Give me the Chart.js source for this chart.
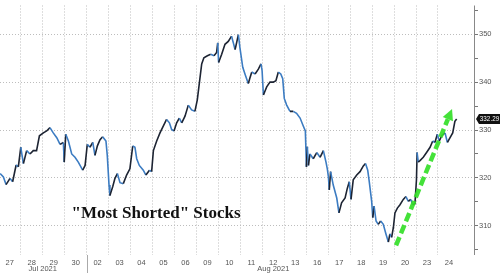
<!DOCTYPE html>
<html>
<head>
<meta charset="utf-8">
<script src="https://cdn.jsdelivr.net/npm/chart.js@4.4.0/dist/chart.umd.min.js"></script>
<style>
  html, body { margin: 0; padding: 0; background: #fff; }
  canvas { display: block; }
</style>
</head>
<body>
<canvas id="chart" width="500" height="273"></canvas>
<script>
// trading days shown on the x axis (each day = 1 unit)
const dayLabels = ['27','28','29','30','02','03','04','05','06','09','10','11','12','13','16','17','18','19','20','23','24'];
const monthLabels = ['Jul 2021', 'Aug 2021'];
const monthStarts = [0, 4];
const yTicks = [305, 310, 315, 320, 325, 330, 335, 340, 345, 350, 355];

// position in trading days (0 = start of Jul 27) and index level
const times = [
  0.06, 0.21, 0.33, 0.51, 0.63, 0.79, 0.89, 1.00, 1.12, 1.27, 1.42, 1.57, 1.72, 1.85,
  2.03, 2.18, 2.33, 2.48, 2.64, 2.79, 2.94, 2.98, 3.05, 3.17, 3.32, 3.47, 3.62, 3.82, 3.93,
  4.03, 4.15, 4.28, 4.38, 4.49, 4.61, 4.73, 4.88, 4.94, 5.02, 5.06, 5.19, 5.29, 5.40, 5.52,
  5.67, 5.82, 5.97, 6.10, 6.20, 6.28, 6.40, 6.58, 6.70, 6.86, 6.96, 7.04, 7.19, 7.34, 7.49,
  7.64, 7.77, 7.87, 7.98, 8.10, 8.22, 8.33, 8.48, 8.63, 8.78, 8.93, 9.04, 9.13, 9.24, 9.34,
  9.50, 9.65, 9.80, 9.92, 9.97, 10.01, 10.15, 10.30, 10.45, 10.60, 10.76, 10.91, 10.98, 11.11,
  11.21, 11.36, 11.52, 11.67, 11.82, 11.94, 11.99, 12.05, 12.20, 12.35, 12.50, 12.62, 12.73,
  12.84, 12.93, 13.00, 13.11, 13.26, 13.41, 13.56, 13.72, 13.87, 13.96, 14.01, 14.05, 14.10,
  14.17, 14.32, 14.48, 14.63, 14.78, 14.90, 14.96, 15.01, 15.05, 15.11, 15.23, 15.39, 15.49,
  15.61, 15.77, 15.87, 15.96, 16.04, 16.14, 16.30, 16.45, 16.60, 16.70, 16.80, 16.87, 16.98,
  17.03, 17.09, 17.18, 17.28, 17.39, 17.51, 17.63, 17.74, 17.81, 17.89, 17.97, 18.04, 18.15,
  18.27, 18.42, 18.54, 18.65, 18.76, 18.85, 18.95, 19.02, 19.05, 19.10, 19.18, 19.33, 19.48,
  19.64, 19.76, 19.86, 19.97, 20.06, 20.17, 20.32, 20.43, 20.55, 20.67, 20.77, 20.85
];
const prices = [
  320.9, 320.2, 318.6, 319.9, 319.2, 322.7, 322.3, 326.4, 323.0, 325.7, 325.0, 325.7, 325.7, 328.8,
  329.4, 329.8, 330.5, 329.4, 328.4, 327.0, 327.4, 323.3, 329.1, 327.7, 325.0, 324.3, 323.3, 321.6, 322.6,
  327.0, 326.4, 327.4, 324.7, 326.7, 328.0, 328.6, 327.7, 324.7, 318.5, 316.3, 318.2, 319.9, 320.9, 319.0,
  318.8, 320.6, 321.9, 326.7, 326.4, 324.0, 322.6, 321.6, 320.6, 321.6, 321.3, 325.7, 327.7, 329.4, 330.8,
  332.2, 331.5, 330.1, 329.8, 331.5, 332.5, 331.5, 332.9, 335.2, 334.2, 333.9, 336.3, 339.7, 343.8, 345.1,
  345.5, 345.8, 345.5, 346.2, 348.2, 344.1, 345.8, 347.9, 348.5, 349.6, 346.8, 349.9, 347.2, 343.1,
  341.7, 339.7, 342.1, 341.7, 342.7, 343.8, 342.4, 337.3, 339.0, 340.0, 340.0, 340.3, 342.1,
  341.7, 340.7, 336.6, 335.2, 333.9, 333.9, 333.5, 332.5, 330.8, 329.8, 322.3, 326.5, 322.6,
  325.0, 324.0, 325.3, 324.3, 325.7, 323.3, 321.9, 320.2, 317.5, 321.3, 318.5, 315.8, 312.7,
  314.8, 315.8, 317.8, 319.2, 315.5, 319.6, 320.6, 321.3, 322.5, 323.0, 321.6, 319.2, 315.1,
  311.7, 314.1, 311.0, 310.3, 311.0, 310.3, 308.3, 306.6, 308.3, 307.6, 309.7, 312.7, 313.7,
  314.4, 315.5, 316.1, 315.1, 315.5, 314.4, 314.6, 319.6, 325.3, 323.3, 323.6, 324.3, 325.3,
  326.4, 327.7, 327.4, 329.1, 327.7, 328.8, 329.4, 327.4, 328.4, 329.4, 331.8, 332.29
];

// green trend arrow, in data units [day, level]
const arrowFrom = [18.09, 305.9];
const arrowTo = [20.64, 334.4];
const titleText = '"Most Shorted" Stocks';
const titleAt = [7.16, 311.6];

const UP_COLOR = '#1d2433';
const DOWN_COLOR = '#3c7cc2';
const GRID_COLOR = '#bdbdbd';
const TEXT_COLOR = '#555';
const smallFont = { family: 'Liberation Sans', size: 7.5 };

const extras = {
    id: 'extras',
    beforeDatasetsDraw(chart) {
        const c = chart.ctx;
        const xs = chart.scales.x;
        const area = chart.chartArea;
        // month separator in the label band, and the right axis line
        c.save();
        c.lineWidth = 1;
        c.strokeStyle = '#aaa';
        const sx = Math.round(xs.getPixelForValue(monthStarts[1])) + 0.5;
        c.beginPath();
        c.moveTo(sx, area.bottom);
        c.lineTo(sx, chart.height);
        c.stroke();
        c.strokeStyle = '#888';
        const ax = Math.round(area.right) + 0.5;
        c.beginPath();
        c.moveTo(ax, area.top);
        c.lineTo(ax, area.bottom);
        c.stroke();
        c.restore();
    },
    afterDatasetsDraw(chart) {
        const c = chart.ctx;
        const xs = chart.scales.x, ys = chart.scales.y;

        // title
        c.save();
        c.font = 'bold 17px "Liberation Serif"';
        c.fillStyle = '#111';
        c.textAlign = 'center';
        c.textBaseline = 'alphabetic';
        c.fillText(titleText, xs.getPixelForValue(titleAt[0]), ys.getPixelForValue(titleAt[1]));
        c.restore();

        // arrow
        const x0 = xs.getPixelForValue(arrowFrom[0]), y0 = ys.getPixelForValue(arrowFrom[1]);
        const x1 = xs.getPixelForValue(arrowTo[0]), y1 = ys.getPixelForValue(arrowTo[1]);
        const len = Math.hypot(x1 - x0, y1 - y0);
        const ux = (x1 - x0) / len, uy = (y1 - y0) / len;
        const head = 11, half = 5.5;
        const bx = x1 - ux * head, by = y1 - uy * head;
        c.save();
        c.strokeStyle = 'rgba(52, 222, 40, 0.92)';
        c.fillStyle = 'rgba(52, 222, 40, 0.92)';
        c.lineWidth = 4.5;
        c.setLineDash([9, 4]);
        c.beginPath();
        c.moveTo(x0, y0);
        c.lineTo(bx, by);
        c.stroke();
        c.setLineDash([]);
        c.beginPath();
        c.moveTo(x1, y1);
        c.lineTo(bx - uy * half, by + ux * half);
        c.lineTo(bx + uy * half, by - ux * half);
        c.closePath();
        c.fill();
        c.restore();
    },
    afterDraw(chart) {
        const c = chart.ctx;
        const xs = chart.scales.x, ys = chart.scales.y;
        const area = chart.chartArea;

        // month labels
        c.save();
        c.font = '7.5px "Liberation Sans"';
        c.fillStyle = TEXT_COLOR;
        c.textAlign = 'center';
        c.textBaseline = 'middle';
        monthLabels.forEach((m, i) => {
            const a = monthStarts[i];
            const b = i + 1 < monthStarts.length ? monthStarts[i + 1] : dayLabels.length;
            c.fillText(m, xs.getPixelForValue((a + b) / 2), 269);
        });
        c.restore();

        // last value tag
        const last = prices[prices.length - 1];
        const ty = ys.getPixelForValue(last);
        const left = area.right + 2;
        c.save();
        c.fillStyle = '#111';
        c.beginPath();
        c.moveTo(left, ty);
        c.lineTo(left + 3, ty - 5);
        c.lineTo(chart.width, ty - 5);
        c.lineTo(chart.width, ty + 5);
        c.lineTo(left + 3, ty + 5);
        c.closePath();
        c.fill();
        c.font = '7px "Liberation Sans"';
        c.fillStyle = '#fff';
        c.textAlign = 'center';
        c.textBaseline = 'middle';
        const cx = (left + 3 + chart.width) / 2;
        c.translate(cx, ty + 0.5);
        c.scale(0.9, 1);
        c.fillText(last.toFixed(2), 0, 0);
        c.restore();
    }
};

new Chart(document.getElementById('chart'), {
    type: 'line',
    data: {
        datasets: [{
            data: times.map((t, i) => ({ x: t, y: prices[i] })),
            borderColor: UP_COLOR,
            borderWidth: 1.6,
            pointRadius: 0,
            tension: 0,
            segment: {
                borderColor: s => s.p1.parsed.y >= s.p0.parsed.y ? UP_COLOR : DOWN_COLOR
            }
        }]
    },
    options: {
        responsive: false,
        animation: false,
        devicePixelRatio: 1,
        layout: { padding: 0 },
        plugins: { legend: { display: false }, tooltip: { enabled: false } },
        scales: {
            x: {
                type: 'linear',
                min: 0.055,
                max: 21.64,
                afterBuildTicks: s => { s.ticks = dayLabels.map((_, i) => ({ value: i + 0.5 })); },
                afterFit: s => { s.height = 18; },
                border: { display: false, dash: [1, 2] },
                grid: {
                    offset: true,
                    drawTicks: false,
                    color: g => g.tick ? GRID_COLOR : 'rgba(0,0,0,0)'
                },
                ticks: {
                    autoSkip: false,
                    maxRotation: 0,
                    padding: 3,
                    color: TEXT_COLOR,
                    font: smallFont,
                    callback: (v, i) => dayLabels[i]
                }
            },
            y: {
                position: 'right',
                min: 303.9,
                max: 356.0,
                afterBuildTicks: s => { s.ticks = yTicks.map(v => ({ value: v })); },
                afterFit: s => { s.width = 26; },
                border: { display: false, dash: [1, 2] },
                grid: {
                    color: g => g.tick && g.tick.value % 10 === 0 ? GRID_COLOR : 'rgba(0,0,0,0)',
                    tickColor: '#777',
                    tickBorderDash: [],
                    tickLength: 4
                },
                ticks: {
                    padding: 1,
                    color: TEXT_COLOR,
                    font: smallFont,
                    callback: v => v % 10 === 0 ? v : ''
                }
            }
        }
    },
    plugins: [extras]
});
</script>
</body>
</html>
